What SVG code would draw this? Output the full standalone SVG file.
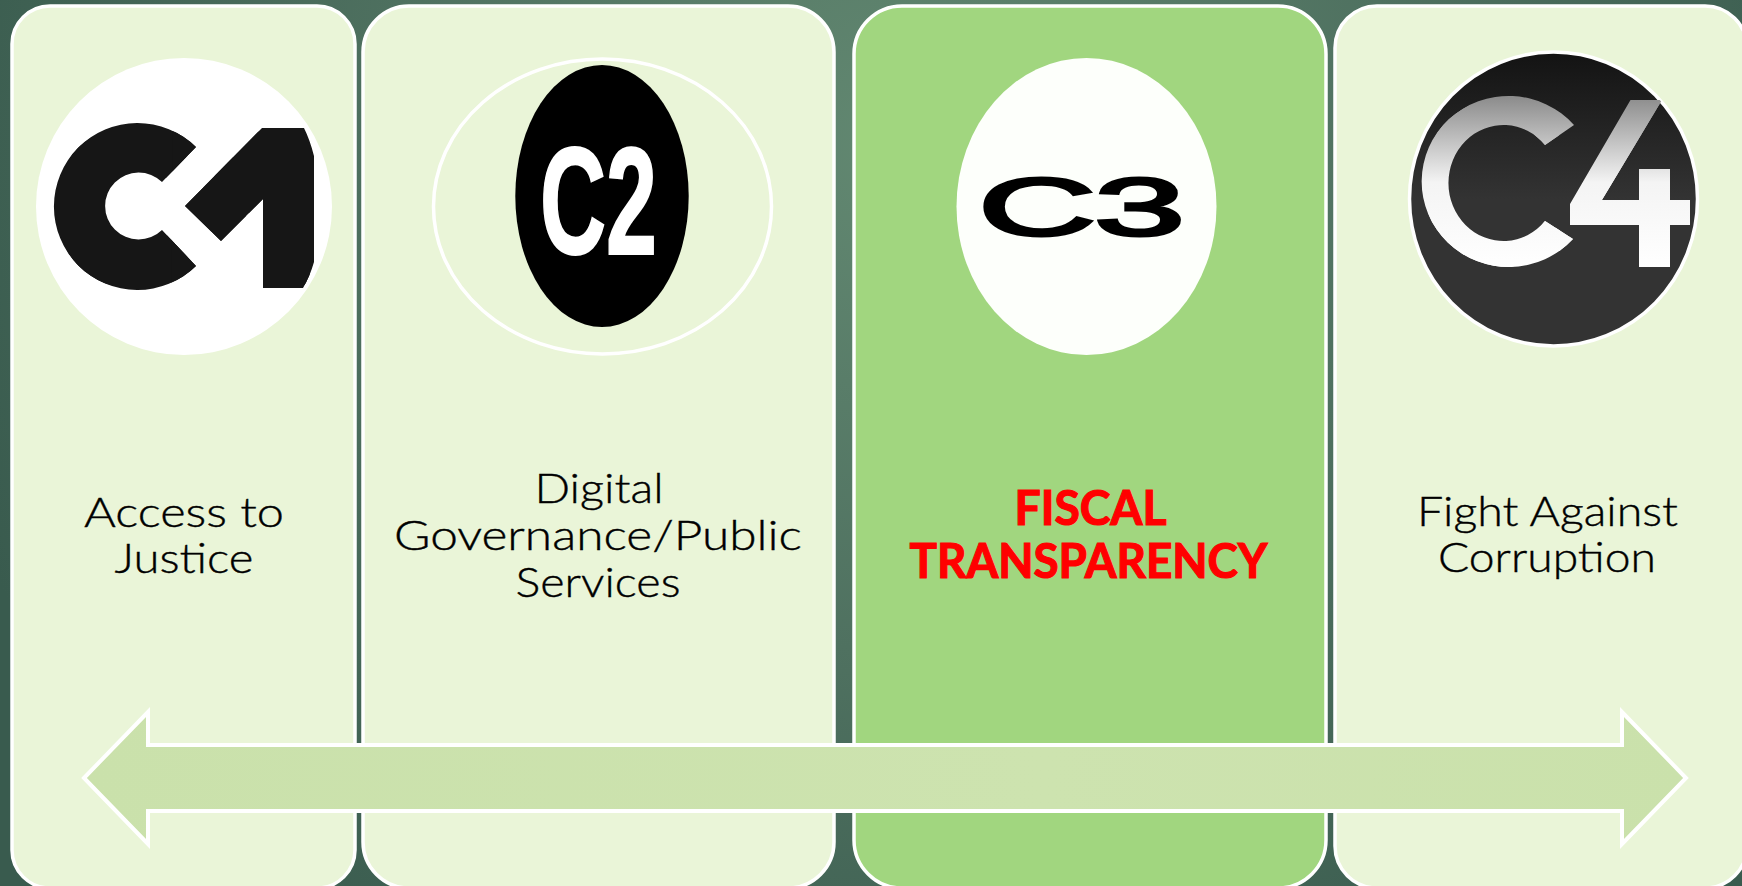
<svg xmlns="http://www.w3.org/2000/svg" width="1742" height="886" viewBox="0 0 1742 886">
<defs>
<radialGradient id="bg" gradientUnits="userSpaceOnUse" cx="900" cy="150" r="1000">
<stop offset="0" stop-color="#628871"/><stop offset="0.5" stop-color="#4f7160"/><stop offset="1" stop-color="#395b4e"/>
</radialGradient>
<linearGradient id="arrowFill" gradientUnits="userSpaceOnUse" x1="82" y1="0" x2="1688" y2="0">
<stop offset="0" stop-color="#cae1ab"/><stop offset="0.6" stop-color="#cde3af"/><stop offset="1" stop-color="#cae1ab"/>
</linearGradient>
<linearGradient id="c4bg" x1="0" y1="0" x2="0" y2="1">
<stop offset="0" stop-color="#131313"/><stop offset="0.5" stop-color="#333333"/><stop offset="1" stop-color="#333333"/>
</linearGradient>
<linearGradient id="c4txt" gradientUnits="userSpaceOnUse" x1="0" y1="97" x2="0" y2="268">
<stop offset="0" stop-color="#8c8c8c"/><stop offset="0.5" stop-color="#f4f4f4"/><stop offset="1" stop-color="#ffffff"/>
</linearGradient>
<clipPath id="clipC1"><path clip-rule="evenodd" d="M196 147A83.500 83.500 0 1 0 196 266L162 230A33.500 33.500 0 1 1 162 182ZM262 128H304Q310 140 314 156V262Q310 276 303 288H263V199L221 241L185 206Z"/></clipPath>
<clipPath id="clipC4"><ellipse cx="1553.500" cy="199" rx="144" ry="147"/></clipPath>
<clipPath id="cut4"><path clip-rule="evenodd" d="M1574 125A87 85.500 0 1 0 1573 239L1545 221A55 58 0 1 1 1545 145ZM1630.500 100H1662L1602 200H1639V169H1670V200H1690V225H1670V267H1639V225H1570V204Z"/></clipPath>
</defs>
<style>
.card{fill:#eaf5d8;stroke:#fff;stroke-width:3.5}
.sel{fill:#a1d67f}
.lbl{font-family:"Lato","Liberation Sans",sans-serif;font-weight:300;font-size:42px;fill:#000;stroke:#000;stroke-width:.4;text-anchor:middle}
.hot{font-family:"Lato","Liberation Sans",sans-serif;font-weight:700;font-size:47px;fill:#f00;stroke:#f00;stroke-width:1.2;text-anchor:middle}
.logo{font-family:"Liberation Sans",Arial,sans-serif;font-weight:700}
</style>
<rect width="1742" height="886" fill="url(#bg)"/>
<g id="node-c1">
<rect class="card" x="12" y="6" width="343" height="882" rx="38" ry="38"/>
<ellipse cx="184" cy="206.500" rx="148" ry="148.500" fill="#fff"/>
<g clip-path="url(#clipC1)">
<text class="logo" x="50" y="285" font-size="222" fill="#161616" stroke="#161616" stroke-width="90" textLength="266" lengthAdjust="spacingAndGlyphs">C1</text>
</g>
<text class="lbl"><tspan x="184" y="526.500" textLength="200" lengthAdjust="spacingAndGlyphs">Access to</tspan><tspan x="184" y="572.500" textLength="139" lengthAdjust="spacingAndGlyphs">Justice</tspan></text>
</g>
<g id="node-c2">
<rect class="card" x="363" y="6" width="471" height="882" rx="46" ry="46"/>
<ellipse cx="602.500" cy="206.500" rx="169" ry="147.500" fill="none" stroke="#fff" stroke-width="3.500"/>
<ellipse cx="602" cy="196" rx="86.700" ry="131" fill="#000"/>
<text class="logo" x="540" y="254" font-size="152" fill="#fff" stroke="#fff" stroke-width="2" textLength="117" lengthAdjust="spacingAndGlyphs">C2</text>
<text class="lbl"><tspan x="599" y="503" textLength="129" lengthAdjust="spacingAndGlyphs">Digital</tspan><tspan x="598" y="550" textLength="408" lengthAdjust="spacingAndGlyphs">Governance/Public</tspan><tspan x="598" y="597" textLength="165" lengthAdjust="spacingAndGlyphs">Services</tspan></text>
</g>
<g id="node-c3">
<rect class="card sel" x="854" y="6" width="472" height="882" rx="48" ry="48"/>
<ellipse cx="1086.500" cy="206.500" rx="130" ry="148.500" fill="#fdfffb"/>
<text class="logo" style="font-weight:400" transform="translate(978 235) scale(2 1)" x="0 58" y="0" font-size="82" fill="#000" stroke="#000" stroke-width="3">C3</text>
<text class="hot"><tspan x="1090.500" y="525" textLength="152" lengthAdjust="spacingAndGlyphs">FISCAL</tspan><tspan x="1088.500" y="578" textLength="358" lengthAdjust="spacingAndGlyphs">TRANSPARENCY</tspan></text>
</g>
<g id="node-c4">
<rect class="card" x="1335" y="6" width="412" height="882" rx="42" ry="42"/>
<ellipse cx="1553.500" cy="199" rx="144" ry="147" fill="url(#c4bg)" stroke="#fff" stroke-width="3.500"/>
<g clip-path="url(#clipC4)"><g clip-path="url(#cut4)">
<text class="logo" style="font-weight:400" x="1414" y="266" font-size="236" fill="url(#c4txt)" stroke="url(#c4txt)" stroke-width="44" textLength="278" lengthAdjust="spacingAndGlyphs">C4</text>
</g></g>
<text class="lbl"><tspan x="1547.500" y="526" textLength="261" lengthAdjust="spacingAndGlyphs">Fight Against</tspan><tspan x="1547" y="572" textLength="218" lengthAdjust="spacingAndGlyphs">Corruption</tspan></text>
</g>
<g id="connectors">
<path id="double-arrow" d="M84 778L148 712V745H1622V712L1686 778L1622 844V811H148V844Z" fill="url(#arrowFill)" stroke="#fff" stroke-width="4" stroke-linejoin="miter"/>
</g>
</svg>
